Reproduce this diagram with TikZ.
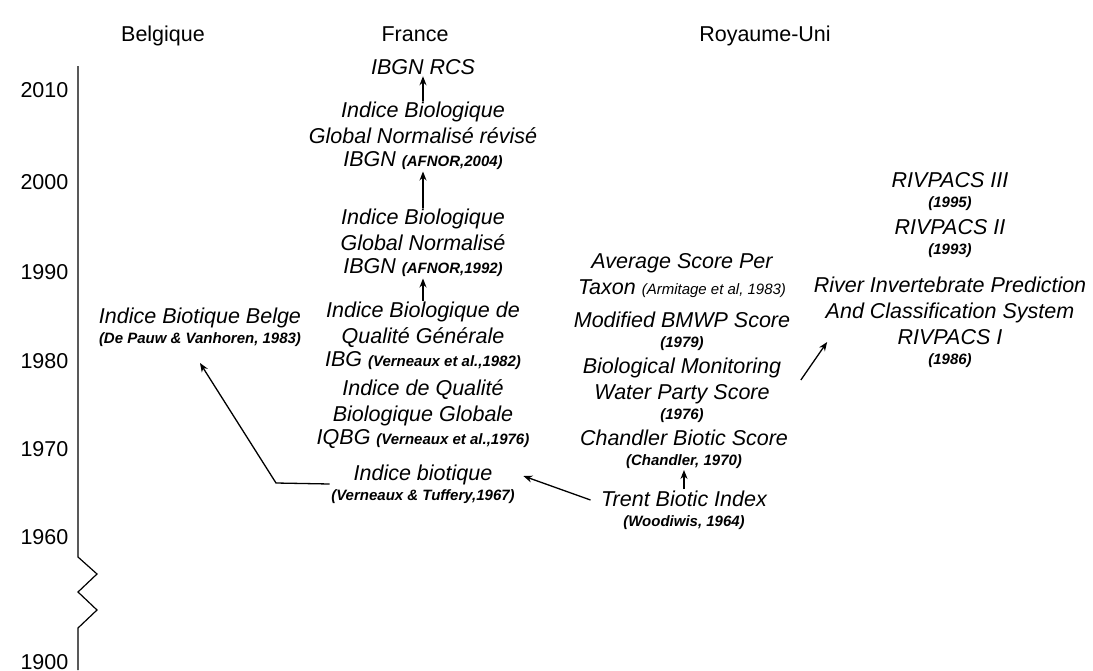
\documentclass[tikz,border=0pt]{standalone}
\usepackage{fontspec}
\setmainfont{Liberation Sans}
\usetikzlibrary{positioning}
\usetikzlibrary{calc}
\usetikzlibrary{arrows.meta}

\newcommand{\reff}[1]{{\fontsize{15}{18}\selectfont\bfseries #1}}
\newcommand{\refn}[1]{{\fontsize{15}{18}\selectfont #1}}

\begin{document}
\begin{tikzpicture}[x=1pt, y=-1pt, ->, >={Stealth[length=9pt, width=7pt]}, line width=1.3pt,
    idx/.style={align=center, inner sep=1pt, font=\fontsize{21.5}{26}\selectfont\itshape},
    year/.style={anchor=east, inner sep=0pt, font=\fontsize{21.5}{26}\selectfont},
    country/.style={anchor=base, inner sep=0pt, font=\fontsize{21.5}{26}\selectfont}]
        \path[-, fill=white, use as bounding box] (0,0) rectangle (1093,670);

        % headings
        \node [country] (belh) at (163,41) {Belgique};
        \node [country] (frh) at (415,41) {France};
        \node [country] (ukh) at (765,41) {Royaume-Uni};

        % time axis
        \draw [-, line width=1.2pt] (78,66) -- (78,557) -- (97,574) -- (78,592)
            -- (97,610) -- (78,628) -- (78,670);
        \node [year] (y2010) at (69,90) {2010};
        \node [year] (y2000) at (69,182) {2000};
        \node [year] (y1990) at (69,272) {1990};
        \node [year] (y1980) at (69,361) {1980};
        \node [year] (y1970) at (69,449) {1970};
        \node [year] (y1960) at (69,537) {1960};
        \node [year] (y1900) at (69,662) {1900};

        % France
        \node [idx] (rcs) at (423,67) {IBGN RCS};
        \node [idx] (ibgnr) at (423,136) {Indice Biologique\\Global Normalisé révisé\\[-3pt]IBGN \reff{(AFNOR,2004)}};
        \node [idx] (ibgn) at (423,243) {Indice Biologique\\Global Normalisé\\[-3pt]IBGN \reff{(AFNOR,1992)}};
        \node [idx] (ibg) at (423,336) {Indice Biologique de\\Qualité Générale\\[-3pt]IBG \reff{(Verneaux et al.,1982)}};
        \node [idx] (iqbg) at (423,414) {Indice de Qualité\\Biologique Globale\\[-3pt]IQBG \reff{(Verneaux et al.,1976)}};
        \node [idx] (ib) at (423,484) {Indice biotique\\[-6pt]\reff{(Verneaux \& Tuffery,1967)}};

        \path (ibgnr) edge (rcs);
        \path (ibgn) edge (ibgnr);
        \path (ibg) edge (ibgn);

        % Belgique
        \node [idx] (bel) at (200,327) {Indice Biotique Belge\\[-6pt]\reff{(De Pauw \& Vanhoren, 1983)}};
        \coordinate (kink) at (276,483);
        \draw (ib.west) -- (kink) -- ([yshift=-15pt]bel.south);

        % Royaume-Uni
        \node [idx] (asp) at (682,276) {Average Score Per\\Taxon \refn{(Armitage et al, 1983)}};
        \node [idx] (mbmwp) at (682,331) {Modified BMWP Score\\[-6pt]\reff{(1979)}};
        \node [idx] (bmwp) at (682,390) {Biological Monitoring\\Water Party Score\\[-6pt]\reff{(1976)}};
        \node [idx] (cbs) at (684,449) {Chandler Biotic Score\\[-6pt]\reff{(Chandler, 1970)}};
        \node [idx] (tbi) at (684,510) {Trent Biotic Index\\[-6pt]\reff{(Woodiwis, 1964)}};

        \node [idx] (r3) at (950,192) {RIVPACS III\\[-6pt]\reff{(1995)}};
        \node [idx] (r2) at (950,239) {RIVPACS II\\[-6pt]\reff{(1993)}};
        \node [idx] (r1) at (950,322) {River Invertebrate Prediction\\And Classification System\\RIVPACS I\\[-6pt]\reff{(1986)}};

        \path (tbi) edge (cbs);
        \draw ([xshift=-9pt, yshift=10pt]tbi.west) -- ([xshift=7pt, yshift=8pt]ib.east);
        \draw ([xshift=18pt, yshift=10pt]bmwp.east) -- ([xshift=15pt, yshift=-20pt]r1.west);
    \end{tikzpicture}
\end{document}
